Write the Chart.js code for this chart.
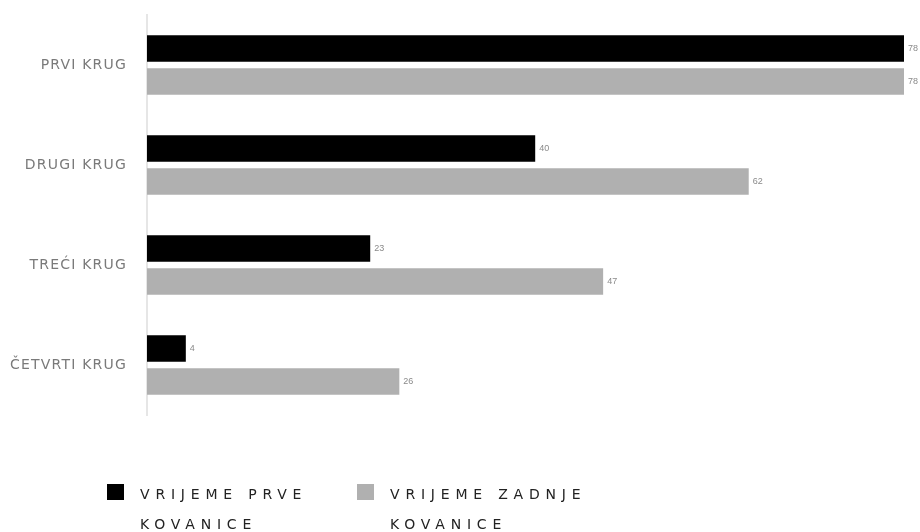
<!DOCTYPE html>
<html>
<head>
<meta charset="utf-8">
<script src="https://cdn.jsdelivr.net/npm/chart.js@4"></script>
<style>
  html, body { margin: 0; padding: 0; background: #fff; }
  #wrap { position: relative; width: 920px; height: 532px; }
  #legend { position: absolute; left: 107px; top: 484px; display: flex; }
  .item { display: flex; align-items: flex-start; margin-right: 17px; }
  .box { width: 17px; height: 16px; margin-right: 16px; }
  .txt { width: 200px; font-family: 'DejaVu Sans', sans-serif; font-size: 14px; letter-spacing: 5.8px;
         line-height: 30px; color: #222; margin-top: -5px; white-space: normal; }
</style>
</head>
<body>
<div id="wrap">
  <canvas id="chart" width="920" height="532"></canvas>
  <div id="legend"></div>
</div>
<script>
// Podaci
const krugovi = ['PRVI KRUG', 'DRUGI KRUG', 'TREĆI KRUG', 'ČETVRTI KRUG'];
const prvaKovanica = [78, 40, 23, 4];
const zadnjaKovanica = [78, 62, 47, 26];
const serije = ['VRIJEME PRVE KOVANICE', 'VRIJEME ZADNJE KOVANICE'];
const boje = ['#000000', '#b0b0b0'];

// razmak slova za oznake osi (canvas letterSpacing)
const axisSpacing = {
  id: 'axisSpacing',
  beforeDraw(chart) { chart.ctx.letterSpacing = '1.2px'; },
  beforeDatasetsDraw(chart) { chart.ctx.letterSpacing = '0px'; }
};

// vrijednosti desno od stupca
const valueLabels = {
  id: 'valueLabels',
  afterDatasetsDraw(chart) {
    const ctx = chart.ctx;
    ctx.save();
    ctx.font = '9px Arial, sans-serif';
    ctx.fillStyle = '#8a8a8a';
    ctx.textAlign = 'left';
    ctx.textBaseline = 'middle';
    chart.data.datasets.forEach((ds, i) => {
      chart.getDatasetMeta(i).data.forEach((bar, j) => {
        ctx.fillText(ds.data[j], bar.x + 4, bar.y);
      });
    });
    ctx.restore();
  }
};

const chart = new Chart(document.getElementById('chart'), {
  type: 'bar',
  data: {
    labels: krugovi,
    datasets: [
      { label: serije[0], data: prvaKovanica, backgroundColor: boje[0], borderWidth: 0 },
      { label: serije[1], data: zadnjaKovanica, backgroundColor: boje[1], borderWidth: 0 }
    ]
  },
  options: {
    indexAxis: 'y',
    responsive: false,
    animation: false,
    categoryPercentage: 0.66,
    barPercentage: 0.8,
    layout: { padding: { top: 15, right: 16, bottom: 117, left: 0 } },
    scales: {
      x: {
        min: 0, max: 78,
        display: false
      },
      y: {
        afterFit(axis) {
          axis.width = 147;
          axis.paddingTop = 0;
          axis.paddingBottom = 0;
        },
        grid: { display: false, drawTicks: false },
        border: { color: '#e6e6e6', width: 2 },
        ticks: {
          padding: 20,
          color: '#7a7a7a',
          font: { family: "'DejaVu Sans', sans-serif", size: 14 }
        }
      }
    },
    plugins: {
      legend: { display: false },
      tooltip: { enabled: false }
    }
  },
  plugins: [axisSpacing, valueLabels]
});

// HTML legenda
const legend = document.getElementById('legend');
chart.data.datasets.forEach(ds => {
  const item = document.createElement('div');
  item.className = 'item';
  const box = document.createElement('div');
  box.className = 'box';
  box.style.background = ds.backgroundColor;
  const txt = document.createElement('div');
  txt.className = 'txt';
  txt.textContent = ds.label;
  item.appendChild(box);
  item.appendChild(txt);
  legend.appendChild(item);
});
</script>
</body>
</html>
